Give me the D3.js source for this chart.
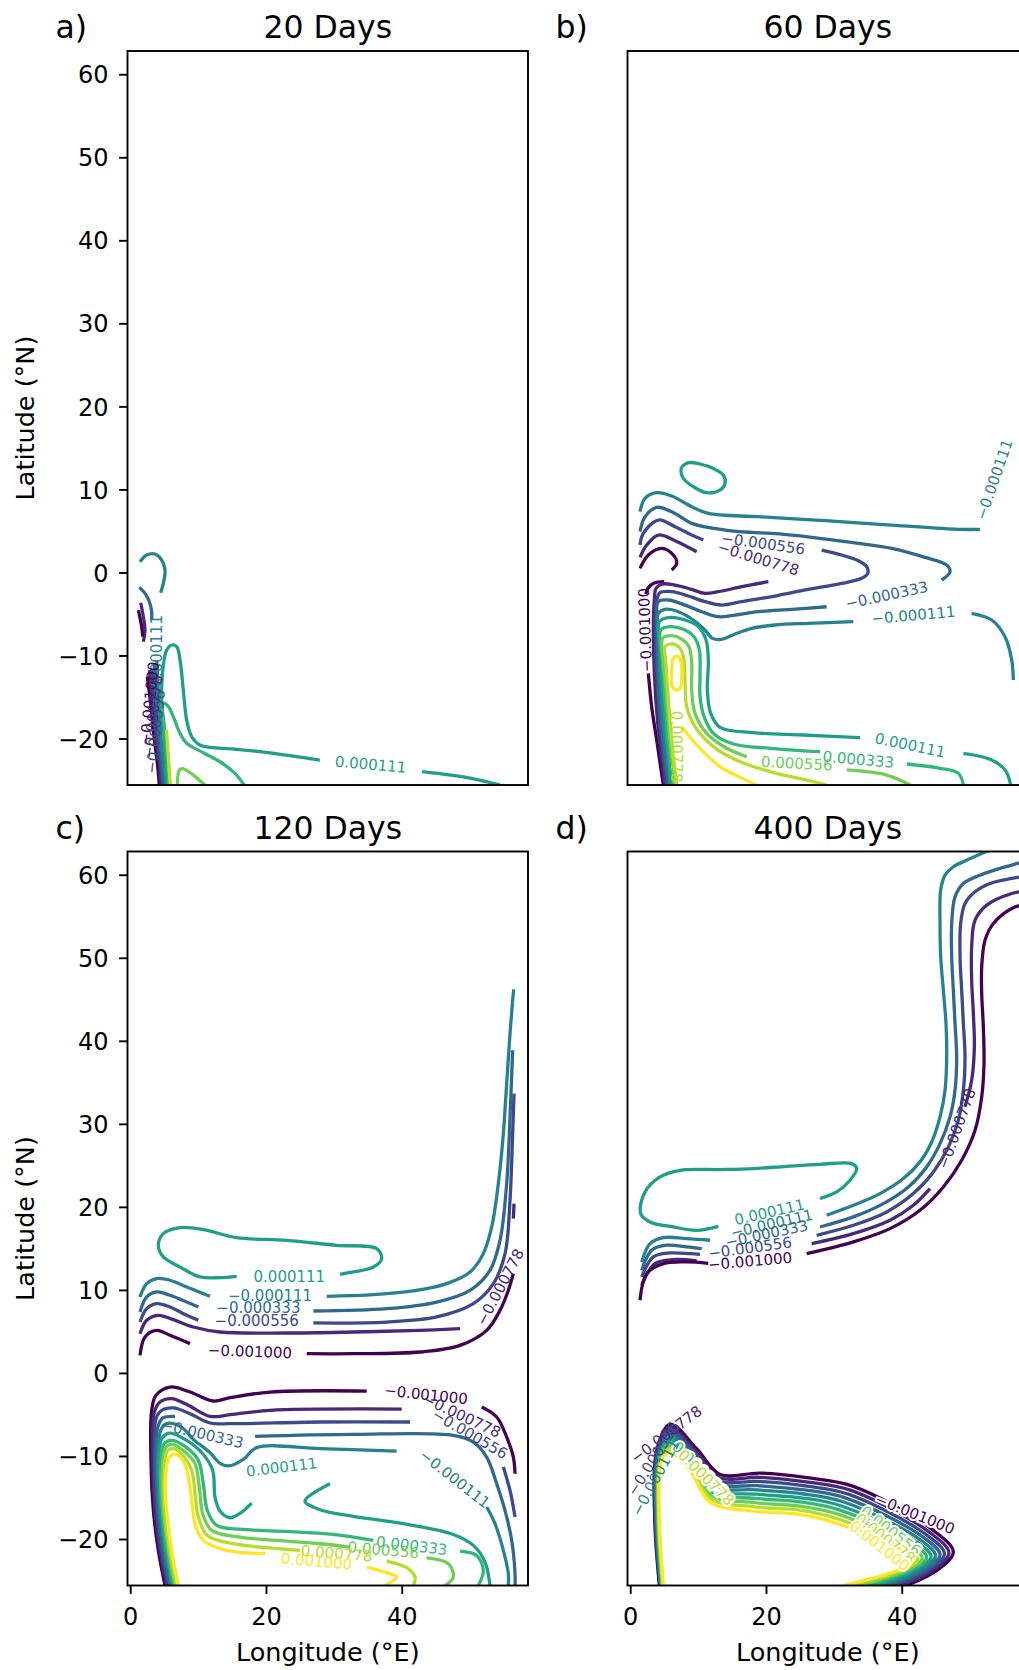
<!DOCTYPE html>
<html><head><meta charset="utf-8">
<script src="https://cdn.jsdelivr.net/npm/d3@7"></script>
<style>
body{margin:0;background:#fff;}
svg text{font-family:"DejaVu Sans",sans-serif;}
</style>
</head><body>
<svg id="chart" width="1019" height="1670"></svg>
<script>
// ---------- data ----------
const levels = [-0.001, -0.000778, -0.000556, -0.000333, -0.000111, 0.000111, 0.000333, 0.000556, 0.000778, 0.001];
const titles = ["20 Days", "60 Days", "120 Days", "400 Days"];
const letters = ["a)", "b)", "c)", "d)"];
const latTicks = [-20, -10, 0, 10, 20, 30, 40, 50, 60];
const lonTicks = [0, 20, 40];
const lonDomain = [-0.4, 58.6];
const latDomain = [-25.6, 62.8];

// contour polylines: [level index, [[lon, lat], ...]]
const linesA = [
  [4, [[1.44,1.29],[2.43,2.10],[3.65,2.22],[4.64,1.49],[5.13,0.29],[4.88,-1.31],[4.49,-2.44]]],
  [3, [[1.34,-1.80],[2.18,-2.52],[2.82,-3.53],[3.16,-4.73],[3.16,-5.73]]],
  [1, [[1.54,-3.65],[1.93,-5.33],[2.18,-6.94],[1.93,-8.35]]],
  [0, [[1.20,-4.53],[1.69,-6.54],[1.84,-7.74]]],
  [0, [[2.52,-12.56],[3.01,-15.77],[3.51,-19.79],[4.0,-23.0],[4.29,-25.6]]],
  [1, [[2.82,-11.76],[3.31,-15.77],[3.80,-19.79],[4.29,-23.0],[4.54,-25.6]]],
  [2, [[3.16,-11.76],[3.60,-15.77],[4.05,-19.79],[4.49,-23.0],[4.78,-25.6]]],
  [3, [[3.51,-10.95],[3.90,-15.77],[4.29,-19.79],[4.73,-23.0],[5.03,-25.6]]],
  [4, [[3.90,-10.55],[4.19,-14.97],[4.54,-19.79],[4.93,-23.0],[5.27,-25.6]]],
  [5, [[5.47,-25.6],[5.0,-20.0],[4.64,-13.77],[5.38,-9.35],[6.11,-8.74],[6.85,-8.94],[7.34,-10.55],[7.82,-14.16],[8.32,-17.78],[9.06,-19.79],[10.28,-20.79],[12.24,-21.11],[15.69,-21.31],[20.59,-21.72],[27.96,-22.59]]],
  [5, [[43.0,-24.0],[50.06,-24.76],[54.5,-25.6]]],
  [6, [[5.7,-25.6],[5.3,-20.5],[4.88,-15.77],[5.62,-16.17],[6.35,-17.38],[7.34,-19.38],[8.32,-20.58],[10.77,-21.71],[13.23,-22.8],[15.44,-24.2],[16.77,-25.6]]],
  [7, [[6.94,-25.6],[7.24,-23.8],[7.73,-23.64],[9.3,-24.4],[11.0,-25.6]]],
  [8, [[5.9,-25.6],[5.6,-22.0],[5.35,-19.0]]]
];
// contour labels: [text, level index, lon, lat, angle]
const labelsA = [
  ["0.000111", 5, 35.41, -23.1, 5],
  ["−0.000111", 4, 3.9, -10.2, -90],
  ["−0.001000", 0, 2.8, -15.8, -84],
  ["−0.000778", 1, 3.3, -17.4, -84],
  ["−0.000556", 2, 3.7, -19.2, -84]
];

const linesB = [
  [0, [[1.44,0.49],[2.67,2.1],[4.64,2.9],[6.35,2.1],[6.85,1.09],[6.11,0.29]]],
  [0, [[5.0,-1.1],[3.6,-1.25],[2.6,-1.9],[2.3,-2.6]]],
  [0, [[2.67,-12.16],[3.16,-16.17],[3.9,-20.19],[4.4,-22.99],[4.88,-25.6]]],
  [1, [[1.44,1.81],[2.43,3.3],[4.14,4.5],[6.6,3.82],[9.79,2.5]]],
  [1, [[20.35,-1.12],[16.42,-1.72],[12.98,-2.32],[11.02,-2.52],[9.05,-2.04],[6.60,-1.52],[4.63,-1.40],[3.80,-1.92],[3.55,-3.32],[3.41,-6.54],[3.55,-12.16],[4.05,-18.18],[4.6,-22.2],[5.13,-25.6]]],
  [2, [[1.44,3.3],[1.93,4.7],[4.14,6.31],[6.6,5.51],[9.06,4.5],[10.77,3.9]]],
  [2, [[28.21,2.70],[31.15,2.1],[33.61,1.41],[34.84,0.69],[35.0,-0.1],[34.1,-0.71],[31.15,-1.32],[26.24,-2.04],[21.33,-2.84],[16.42,-3.52],[13.47,-3.93],[11.02,-3.52],[8.56,-2.84],[6.11,-2.32],[4.39,-2.44],[3.90,-3.32],[3.75,-6.54],[3.90,-12.16],[4.39,-18.18],[4.9,-22.2],[5.37,-25.6]]],
  [3, [[1.44,4.91],[2.18,6.71],[3.90,7.84],[6.60,7.11],[9.06,5.91],[13.97,5.11],[23.79,4.5],[33.61,3.5],[38.52,2.9],[43.43,1.81],[46.62,0.89],[47.11,0.09],[45.88,-0.92]]],
  [3, [[28.94,-4.13],[23.79,-4.45],[18.88,-4.73],[15.44,-5.13],[12.98,-5.33],[10.53,-4.73],[8.07,-3.93],[5.62,-3.32],[4.14,-3.52],[4.0,-6.54],[4.09,-12.16],[4.59,-18.18],[5.1,-22.2],[5.62,-25.6]]],
  [4, [[1.44,7.32],[2.18,8.92],[3.90,9.6],[6.11,9.2],[9.06,7.92],[11.51,7.11],[18.88,6.71],[28.7,6.23],[38.52,5.71],[48.34,5.19],[51.53,5.19]]],
  [4, [[32.87,-5.93],[26.24,-6.13],[21.33,-6.33],[17.89,-6.74],[15.44,-7.42],[13.47,-8.06],[12.1,-7.94],[11.02,-6.94],[9.30,-5.73],[7.09,-4.73],[5.13,-4.45],[4.14,-4.93],[4.19,-8.14],[4.39,-12.96],[4.88,-18.18],[5.4,-22.2],[5.86,-25.6]]],
  [4, [[50.3,-4.93],[53.25,-5.73],[55.21,-7.74],[56.2,-10.55],[56.44,-12.96]]],
  [5, [[7.58,12.73],[8.56,13.22],[10.28,13.06],[12.25,12.53],[13.72,11.73],[13.97,10.73],[13.23,9.92],[11.26,9.6],[9.30,10.33],[7.83,11.33],[7.48,12.13],[7.58,12.73]]],
  [5, [[6.11,-25.6],[5.37,-20.18],[4.78,-14.16],[4.39,-8.94],[4.29,-5.93],[5.87,-5.41],[8.07,-5.73],[10.04,-6.53],[11.17,-8.14],[11.51,-10.55],[11.36,-14.16],[11.86,-16.97],[13.23,-18.66],[18.14,-19.3],[25.5,-19.58],[33.86,-19.9]]],
  [5, [[49.09,-21.79],[53.02,-22.51],[55.23,-23.79],[56.06,-25.6]]],
  [6, [[6.36,-25.6],[5.62,-20.18],[5.03,-14.16],[4.64,-9.74],[4.49,-6.93],[5.87,-6.53],[7.83,-6.85],[9.40,-7.74],[10.19,-9.34],[10.29,-12.15],[10.29,-14.96],[10.88,-17.37],[12.25,-19.38],[15.2,-20.66],[20.6,-21.18],[27.97,-21.59]]],
  [6, [[40.74,-23.07],[45.65,-23.59],[48.35,-24.2],[49.09,-25.6]]],
  [7, [[6.6,-25.6],[5.87,-20.18],[5.28,-14.16],[4.88,-10.55],[4.78,-7.94],[6.11,-7.62],[7.58,-8.02],[8.66,-8.94],[9.06,-10.95],[9.06,-14.16],[9.55,-16.97],[11.27,-19.38],[14.22,-21.18],[17.16,-22.19]]],
  [7, [[31.9,-23.79],[37.79,-24.4],[41.23,-25.6]]],
  [8, [[6.85,-25.6],[6.11,-20.18],[5.52,-14.16],[5.23,-10.55],[5.13,-8.94],[6.26,-8.62],[7.34,-9.14],[7.93,-10.55],[8.08,-13.36],[8.32,-16.17],[9.55,-18.58],[12.25,-20.98],[16.18,-22.79],[21.58,-24.2],[26.0,-25.0],[28.95,-25.6]]],
  [9, [[6.26,-10.35],[6.95,-10.07],[7.49,-10.75],[7.59,-12.55],[7.34,-13.96],[6.6,-14.08],[6.11,-13.56],[6.11,-11.75],[6.26,-10.35]]],
  [9, [[7.59,-18.58],[9.8,-20.78],[13.23,-23.39],[16.18,-24.68],[18.63,-25.6]]]
];
const labelsB = [
  ["−0.000556", 2, 19.6, 3.5, 8],
  ["−0.000778", 1, 18.88, 1.69, 17],
  ["−0.000333", 3, 37.78, -2.72, -12],
  ["−0.000111", 4, 41.71, -5.13, -5],
  ["−0.000111", 4, 53.6, 11.2, -71],
  ["−0.001000", 0, 2.18, -6.94, -92],
  ["0.000111", 5, 41.23, -20.79, 12],
  ["0.000333", 6, 33.62, -22.51, 5],
  ["0.000556", 7, 24.53, -22.99, 3],
  ["0.000778", 8, 6.85, -20.98, 90]
];

const linesC = [
  [5, [[30.91,11.88],[32.87,12.16],[35.82,12.76],[37.05,13.76],[36.31,14.97],[30.42,15.37],[23.05,15.97],[15.68,16.29],[10.77,17.26],[7.34,17.5],[4.88,16.78],[4.14,15.37],[4.88,13.97],[7.34,12.76],[10.28,11.56],[13.23,11.48],[15.68,11.64]]],
  [4, [[1.44,9.15],[2.43,10.75],[3.90,11.36],[5.86,11.16],[8.32,10.35],[10.77,9.55],[11.76,9.23]]],
  [4, [[28.94,9.23],[35.33,9.39],[41.71,9.87],[46.62,10.75],[50.06,12.16],[52.02,14.37],[53.25,17.58],[54.23,22.8],[54.97,28.83],[55.46,34.85],[55.95,40.87],[56.34,44.89],[56.5,46.2]]],
  [3, [[1.44,7.34],[2.43,9.15],[3.90,9.75],[5.86,9.35],[8.32,8.54],[10.04,7.94]]],
  [3, [[26.98,7.46],[37.78,7.74],[45.15,8.54],[50.06,9.95],[53.0,12.36],[54.48,15.97],[55.46,22.8],[56.05,32.84],[56.34,38.87]]],
  [2, [[1.44,6.13],[2.43,7.74],[3.90,8.34],[5.86,7.94],[8.32,6.94],[10.04,6.34]]],
  [2, [[26.98,6.02],[37.78,6.13],[45.15,6.74],[50.55,8.34],[53.5,10.75],[55.22,14.37],[55.95,20.79],[56.34,28.83],[56.54,33.65]]],
  [1, [[1.44,4.73],[2.43,6.34],[4.14,6.94],[6.35,6.42],[9.30,5.53],[13.23,4.93],[23.05,4.81],[32.87,4.93],[42.69,5.13],[48.59,5.33]]],
  [1, [[56.44,18.58],[56.54,20.39]]],
  [0, [[1.44,2.12],[2.18,4.33],[3.90,5.13],[5.86,4.53],[8.81,3.53]]],
  [0, [[26.0,2.32],[32.87,2.32],[42.69,2.52],[48.59,3.32],[52.51,5.13],[54.48,7.54],[55.7,9.95],[56.44,11.96]]],
  [0, [[5.13,-25.6],[4.14,-21.37],[3.41,-16.56],[3.06,-10.53],[3.16,-4.51],[3.80,-2.70],[5.86,-1.70],[8.81,-2.30],[12.25,-3.38],[14.70,-2.98],[20.6,-2.30],[34.84,-2.18]]],
  [0, [[51.78,-4.10],[53.99,-5.31],[55.46,-7.72],[56.44,-10.13],[56.69,-12.14]]],
  [1, [[5.37,-25.6],[4.39,-21.37],[3.65,-16.56],[3.31,-10.53],[3.56,-4.71],[4.39,-3.50],[6.11,-3.10],[8.56,-3.90],[11.76,-5.23],[14.70,-5.03],[20.6,-4.51],[39.99,-4.35]]],
  [2, [[5.62,-25.6],[4.64,-21.37],[3.90,-16.56],[3.56,-10.53],[3.80,-5.51],[4.64,-4.51],[6.35,-4.22],[8.81,-4.91],[11.76,-6.03],[14.70,-6.11],[27.96,-5.91],[41.22,-5.91]]],
  [2, [[54.97,-11.33],[55.95,-14.15],[56.69,-17.36]]],
  [3, [[5.86,-25.6],[4.88,-21.37],[4.14,-16.56],[3.80,-10.53],[4.14,-6.31],[4.88,-5.39],[6.60,-5.23]]],
  [3, [[18.39,-7.64],[32.87,-7.40],[47.6,-7.52],[50.55,-8.32],[52.51,-10.13],[53.99,-13.34],[55.21,-16.56],[56.2,-20.17],[56.69,-24.18],[56.69,-25.6]]],
  [4, [[6.11,-25.6],[5.13,-21.37],[4.39,-16.56],[4.05,-10.53],[4.49,-6.92],[5.37,-6.11],[7.5,-6.5],[9.30,-8.0],[11.76,-9.6],[13.23,-10.9],[14.46,-11.2],[16.67,-10.4],[18.63,-9.0],[27.96,-9.12],[39.25,-9.41]]],
  [4, [[52.51,-16.15],[53.74,-18.16],[54.97,-21.37],[55.7,-24.18],[55.7,-25.6]]],
  [5, [[6.26,-25.6],[5.27,-21.37],[4.54,-16.56],[4.24,-11.33],[4.64,-7.92],[5.86,-7.24],[8.32,-8.12],[10.68,-9.73],[12.15,-11.73],[12.49,-14.95],[13.23,-16.63],[14.70,-17.44],[16.42,-16.76],[17.89,-15.67]]],
  [5, [[29.43,-13.34],[25.75,-15.43],[27.96,-16.47],[32.87,-17.28],[40.24,-18.16],[47.6,-19.45],[50.55,-20.77],[52.27,-22.78],[53.0,-25.6]]],
  [6, [[6.45,-25.6],[5.47,-21.37],[4.73,-16.56],[4.49,-11.33],[4.98,-8.52],[6.11,-8.12],[8.32,-9.0],[10.04,-10.53],[10.77,-13.34],[11.36,-16.56],[12.74,-18.36],[17.16,-18.88],[23.05,-19.08],[29.93,-19.45],[35.82,-20.17]]],
  [6, [[48.58,-21.45],[51.04,-21.98],[52.02,-23.78],[51.29,-25.6]]],
  [7, [[6.65,-25.6],[5.67,-21.37],[4.93,-16.56],[4.73,-11.73],[5.27,-8.92],[6.26,-8.60],[8.07,-9.53],[9.55,-10.93],[10.18,-13.74],[10.68,-16.96],[12.0,-18.96],[16.18,-19.77],[21.58,-20.17],[27.96,-20.57],[32.38,-20.97]]],
  [7, [[43.67,-22.26],[46.87,-22.98],[47.6,-24.59],[46.37,-25.6]]],
  [8, [[6.85,-25.6],[5.86,-21.37],[5.13,-16.56],[4.98,-12.14],[5.47,-9.41],[6.45,-9.12],[7.93,-10.13],[9.06,-11.73],[9.55,-14.55],[10.04,-17.36],[11.36,-19.57],[15.19,-20.57],[20.1,-21.05],[25.01,-21.37]]],
  [8, [[37.78,-22.66],[40.73,-23.46],[41.96,-24.59],[41.71,-25.6]]],
  [9, [[7.09,-25.6],[6.11,-21.37],[5.37,-16.56],[5.22,-12.54],[5.77,-10.13],[6.75,-9.81],[7.93,-10.73],[8.56,-12.54],[9.06,-15.35],[9.55,-18.16],[10.77,-20.17],[14.21,-21.37],[19.86,-21.77]]],
  [9, [[34.84,-23.38],[38.27,-24.18],[39.25,-24.59],[37.54,-25.6]]]
];
const labelsC = [
  ["0.000111", 5, 23.44, 11.56, 0],
  ["−0.000111", 4, 20.6, 9.3, 0],
  ["−0.000333", 3, 18.88, 7.9, 0],
  ["−0.000556", 2, 18.63, 6.3, 0],
  ["−0.000778", 1, 54.48, 10.35, -62],
  ["−0.001000", 0, 17.65, 2.6, 2],
  ["−0.001000", 0, 43.58, -2.58, 6],
  ["−0.000778", 1, 48.83, -5.11, 25],
  ["−0.000556", 2, 50.06, -7.32, 30],
  ["−0.000333", 3, 10.6, -7.3, 13],
  ["−0.000111", 4, 47.85, -12.74, 38],
  ["0.000111", 5, 22.31, -11.33, -7],
  ["0.000333", 6, 41.47, -20.77, 7],
  ["0.000556", 7, 37.29, -21.29, 5],
  ["0.000778", 8, 30.42, -21.7, 5],
  ["0.001000", 9, 27.47, -22.66, 5]
];

const linesD = [
  [5, [[27.96,21.0],[30.42,21.8],[32.38,23.21],[33.36,24.61],[32.63,25.21],[27.96,25.13],[23.05,24.89],[18.14,24.61],[13.23,24.49],[7.34,24.41],[4.39,23.61],[2.18,21.8],[1.54,19.19],[2.92,18.19],[6.35,17.58],[9.79,17.18],[12.98,17.66]]],
  [4, [[1.69,13.37],[2.92,15.58],[4.88,16.3],[8.32,16.18],[11.76,15.98]]],
  [4, [[28.94,18.99],[32.87,20.19],[36.8,21.6],[40.24,23.41],[42.69,25.42],[44.41,27.82],[45.64,30.84],[46.38,34.05],[46.62,38.07],[46.52,42.08],[46.13,46.1],[45.74,50.11],[45.64,54.13],[45.74,58.15],[46.38,59.95],[47.6,60.96],[49.57,61.76],[51.78,62.56],[53.5,63.2]]],
  [3, [[1.69,12.36],[3.16,14.77],[5.37,15.38],[8.32,15.17],[10.53,14.97]]],
  [3, [[27.96,17.58],[32.87,18.79],[37.29,20.39],[40.97,22.4],[43.67,24.81],[45.64,27.62],[47.11,30.84],[47.85,34.05],[48.09,38.07],[47.85,42.08],[47.6,46.1],[47.36,50.11],[47.36,54.13],[47.85,57.34],[49.08,58.95],[51.53,59.95],[53.99,60.64],[56.2,61.16],[58,61.6]]],
  [2, [[1.69,11.56],[3.41,13.97],[5.86,14.45],[8.81,14.37],[10.28,14.29]]],
  [2, [[27.47,16.58],[32.87,17.78],[37.78,19.39],[41.71,21.6],[44.66,24.21],[46.87,27.22],[48.34,30.44],[49.08,34.05],[49.32,38.07],[49.08,42.08],[48.83,46.1],[48.59,50.11],[48.68,54.13],[49.32,56.54],[50.8,57.95],[53.01,58.95],[56.2,59.55],[58,59.8]]],
  [1, [[1.69,10.56],[3.65,13.17],[6.35,13.65],[9.79,13.49]]],
  [1, [[26.73,15.58],[32.87,16.78],[38.27,18.39],[41.71,20.19],[44.16,22.2]]],
  [1, [[49.32,32.04],[50.3,35.25],[50.7,39.27],[50.55,43.29],[50.3,47.3],[50.3,51.32],[50.8,54.53],[52.52,56.34],[56.2,57.74],[58,58.0]]],
  [0, [[1.44,8.75],[2.43,11.96],[4.88,13.17],[8.32,13.37],[11.5,13.2]]],
  [0, [[26.0,14.37],[32.87,15.78],[38.27,17.38],[42.69,19.59],[46.13,22.4],[48.83,25.62],[50.8,29.23],[51.78,33.25],[52.12,37.26],[52.02,41.68],[51.78,45.7],[51.78,48.91],[52.27,52.12],[53.5,54.13],[56.2,55.94],[58,56.4]]],
  // southern band
  [0, [[4.29,-25.6],[3.6,-17.36],[3.9,-9.33],[5.86,-6.19],[9.79,-9.13],[13.23,-12.22],[19.12,-12.06],[26.0,-12.62],[32.87,-13.66],[44.66,-18.96],[47.6,-21.57],[45.15,-23.8],[40.73,-25.6]]],
  [1, [[4.36,-25.6],[3.68,-17.36],[3.98,-9.46],[5.86,-6.56],[9.68,-9.41],[13.07,-12.59],[19.01,-12.57],[25.89,-13.11],[32.54,-14.14],[44.17,-19.24],[46.95,-21.69],[44.49,-23.8],[39.69,-25.6]]],
  [2, [[4.42,-25.6],[3.76,-17.36],[4.06,-9.59],[5.86,-6.93],[9.58,-9.7],[12.9,-12.96],[18.9,-13.07],[25.78,-13.6],[32.22,-14.62],[43.67,-19.52],[46.29,-21.8],[43.84,-23.8],[38.65,-25.6]]],
  [3, [[4.49,-25.6],[3.83,-17.36],[4.14,-9.73],[5.86,-7.31],[9.46,-10.0],[12.74,-13.33],[18.79,-13.58],[25.67,-14.09],[31.89,-15.1],[43.18,-19.79],[45.64,-21.91],[43.18,-23.8],[37.62,-25.6]]],
  [4, [[4.55,-25.6],[3.91,-17.36],[4.23,-9.86],[5.86,-7.68],[9.35,-10.29],[12.58,-13.7],[18.68,-14.09],[25.56,-14.58],[31.56,-15.57],[42.69,-20.07],[44.98,-22.02],[42.53,-23.8],[36.58,-25.6]]],
  [5, [[4.62,-25.6],[3.99,-17.36],[4.31,-10.0],[5.86,-8.04],[9.25,-10.57],[12.41,-14.07],[18.58,-14.6],[25.45,-15.07],[31.23,-16.05],[42.2,-20.35],[44.33,-22.13],[41.87,-23.8],[35.54,-25.6]]],
  [6, [[4.69,-25.6],[4.06,-17.36],[4.39,-10.13],[5.86,-8.41],[9.14,-10.86],[12.25,-14.44],[18.47,-15.11],[25.34,-15.56],[30.91,-16.53],[41.71,-20.62],[43.67,-22.24],[41.22,-23.8],[34.51,-25.6]]],
  [7, [[4.75,-25.6],[4.14,-17.36],[4.47,-10.26],[5.86,-8.79],[9.03,-11.16],[12.08,-14.81],[18.36,-15.62],[25.23,-16.06],[30.58,-17.0],[41.22,-20.9],[43.02,-22.35],[40.57,-23.8],[33.47,-25.6]]],
  [8, [[4.82,-25.6],[4.21,-17.36],[4.55,-10.4],[5.86,-9.16],[8.92,-11.45],[11.92,-15.18],[18.25,-16.12],[25.12,-16.55],[30.25,-17.48],[40.73,-21.17],[42.36,-22.47],[39.91,-23.8],[32.43,-25.6]]],
  [9, [[4.88,-25.6],[4.29,-17.36],[4.63,-10.53],[5.86,-9.53],[8.81,-11.74],[11.76,-15.55],[18.14,-16.63],[25.01,-17.04],[29.92,-17.96],[40.24,-21.45],[41.71,-22.58],[39.25,-23.8],[31.4,-25.6]]]
];
const labelsD = [
  ["0.000111", 5, 20.5, 19.39, -13],
  ["−0.000111", 4, 20.84, 17.99, -13],
  ["−0.000333", 3, 20.1, 16.78, -12],
  ["−0.000556", 2, 17.65, 15.09, -8],
  ["−0.001000", 0, 17.65, 13.49, -5],
  ["−0.000778", 1, 48.09, 29.43, -70],
  ["−0.000778", 1, 5.3, -7.4, -37],
  ["−0.000556", 2, 3.4, -10.3, -58],
  ["−0.000111", 4, 3.7, -12.6, -62]
];
// labels sitting inside the dense southern band of panel d (they open gaps in the lines)
const bandLabelsD = [
  ["0.000333", 6, 10.3, -11.6, 45],
  ["0.000778", 8, 11.2, -12.6, 45],
  ["−0.001000", 0, 41.96, -16.96, 22],
  ["0.000556", 7, 38.4, -19.0, 38],
  ["0.000778", 8, 37.6, -19.9, 38],
  ["0.001000", 9, 36.8, -20.8, 38]
];

// ---------- layout ----------
const svg = d3.select("#chart");
const colLeft = [127.5, 627.5], panelW = 400.5;
const rowTop = [51, 851.5], panelH = 734;
const color = i => d3.interpolateViridis(i / (levels.length - 1));
const fmt = d => (d < 0 ? "\u2212" + Math.abs(d) : String(d));

const panels = [
  {lines: linesA, labels: labelsA, halo: [], c: 0, r: 0},
  {lines: linesB, labels: labelsB, halo: [], c: 1, r: 0},
  {lines: linesC, labels: labelsC, halo: [], c: 0, r: 1},
  {lines: linesD, labels: labelsD, halo: bandLabelsD, c: 1, r: 1}
];

panels.forEach((p, pi) => {
  const left = colLeft[p.c], top = rowTop[p.r];
  const x = d3.scaleLinear().domain(lonDomain).range([left, left + panelW]);
  const y = d3.scaleLinear().domain(latDomain).range([top + panelH, top]);
  const g = svg.append("g");
  const clipId = "clip" + pi;
  g.append("clipPath").attr("id", clipId).append("rect")
    .attr("x", left).attr("y", top).attr("width", panelW).attr("height", panelH);

  const line = d3.line().x(d => x(d[0])).y(d => y(d[1])).curve(d3.curveCatmullRom.alpha(0.5));
  const lg = g.append("g").attr("clip-path", `url(#${clipId})`);
  lg.selectAll("path").data(p.lines).join("path")
    .attr("d", d => line(d[1]))
    .attr("fill", "none")
    .attr("stroke", d => color(d[0]))
    .attr("stroke-width", 3.3)
    .attr("stroke-linejoin", "round")
    .attr("stroke-linecap", "butt");

  const drawLabels = (sel, data, halo) => sel.selectAll("text").data(data).join("text")
    .attr("transform", d => `translate(${x(d[2])},${y(d[3])}) rotate(${d[4]})`)
    .attr("text-anchor", "middle")
    .attr("dy", "0.36em")
    .attr("font-size", 15)
    .attr("fill", d => color(d[1]))
    .attr("stroke", halo ? "#fff" : "none")
    .attr("stroke-width", halo ? 4 : 0)
    .attr("paint-order", "stroke")
    .text(d => d[0]);
  drawLabels(g.append("g").attr("clip-path", `url(#${clipId})`), p.halo, true);
  drawLabels(g.append("g"), p.labels, false);

  // frame
  g.append("rect").attr("x", left).attr("y", top).attr("width", panelW).attr("height", panelH)
    .attr("fill", "none").attr("stroke", "#000").attr("stroke-width", 1.9);

  // axes
  if (p.c === 0) {
    const ax = g.append("g").attr("transform", `translate(${left},0)`)
      .call(d3.axisLeft(y).tickValues(latTicks).tickSize(8.4).tickPadding(10.5).tickFormat(fmt));
    ax.select(".domain").remove();
    ax.selectAll("line").attr("stroke", "#000").attr("stroke-width", 1.9);
    ax.selectAll("text").attr("font-size", 24).attr("fill", "#000").attr("dy", "0.36em")
      .attr("font-family", "DejaVu Sans");
    g.append("text")
      .attr("transform", `translate(34,${top + panelH / 2}) rotate(-90)`)
      .attr("text-anchor", "middle").attr("font-size", 25.5).attr("fill", "#000")
      .text("Latitude (°N)");
  }
  if (p.r === 1) {
    const ax = g.append("g").attr("transform", `translate(0,${top + panelH})`)
      .call(d3.axisBottom(x).tickValues(lonTicks).tickSize(8.4).tickPadding(14.5).tickFormat(fmt));
    ax.select(".domain").remove();
    ax.selectAll("line").attr("stroke", "#000").attr("stroke-width", 1.9);
    ax.selectAll("text").attr("font-size", 24).attr("fill", "#000").attr("font-family", "DejaVu Sans");
    g.append("text")
      .attr("x", left + panelW / 2).attr("y", 1661)
      .attr("text-anchor", "middle").attr("font-size", 25.5).attr("fill", "#000")
      .text("Longitude (°E)");
  }
  // title and letter
  g.append("text").attr("x", left + panelW / 2).attr("y", top - 13)
    .attr("text-anchor", "middle").attr("font-size", 31.5).attr("fill", "#000")
    .text(titles[pi]);
  g.append("text").attr("x", left - 72).attr("y", top - 13)
    .attr("text-anchor", "start").attr("font-size", 31.5).attr("fill", "#000")
    .text(letters[pi]);
});
</script>
</body></html>
